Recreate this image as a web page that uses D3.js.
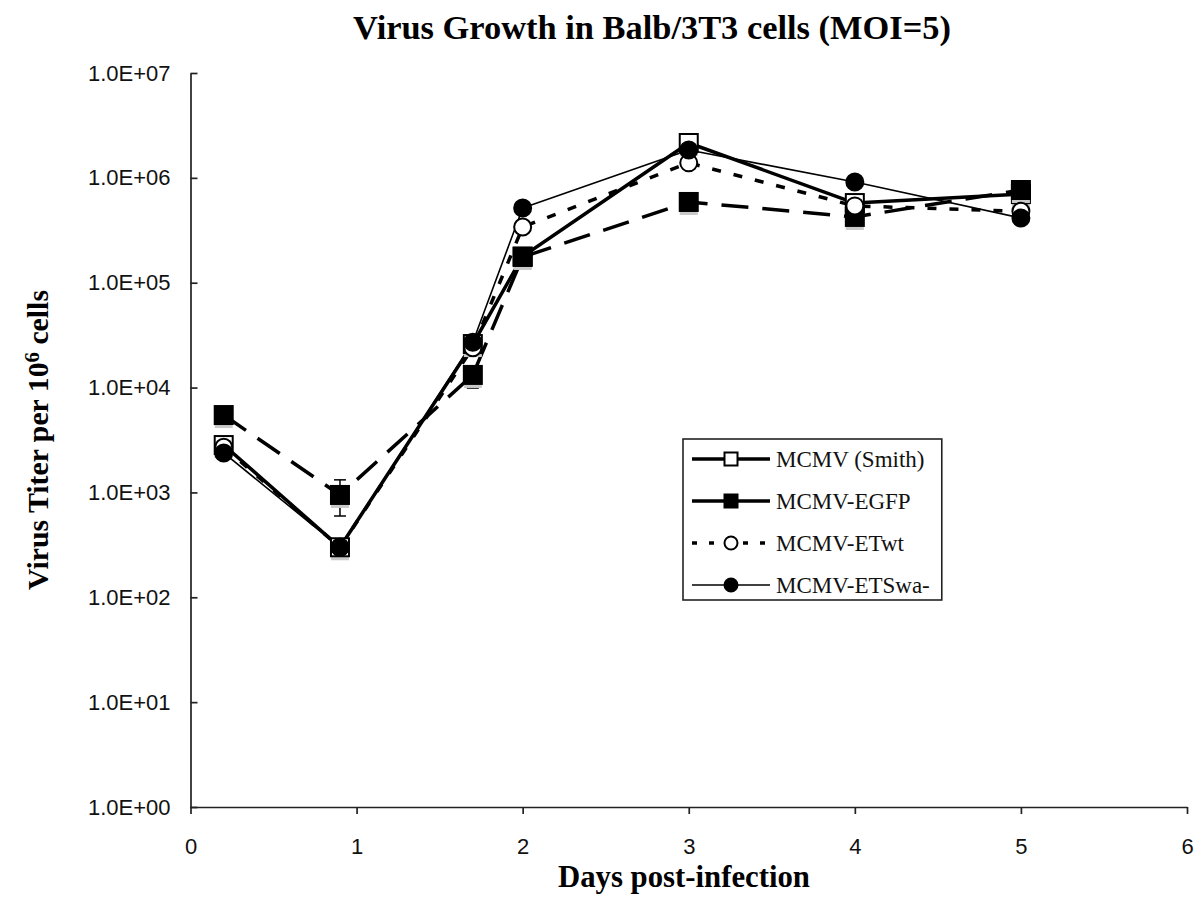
<!DOCTYPE html>
<html>
<head>
<meta charset="utf-8">
<script src="https://cdn.jsdelivr.net/npm/d3@7/dist/d3.min.js"></script>
<style>
  html, body { margin: 0; padding: 0; background: #fff; }
  svg { display: block; }
</style>
</head>
<body>
<svg id="chart" width="1202" height="911"></svg>
<script>
// ---------------- data ----------------
const days = [0.2, 0.9, 1.7, 2, 3, 4, 5];
const seriesNames = ["MCMV (Smith)", "MCMV-EGFP", "MCMV-ETwt", "MCMV-ETSwa-"];
const smith = [2830, 300, 26000, 178000, 2150000, 575000, 700000];
const egfp  = [5470, 946, 13200, 176000, 589000, 424000, 766000];
const etwt  = [2700, 300, 24000, 340000, 1390000, 540000, 480000];
const etswa = [2380, 300, 27000, 516000, 1840000, 912000, 414000];
// error bar limits (null = not visible)
const smithHi = [3370, null, 30000, null, 2560000, null, null];
const smithLo = [2380, null, 22500, null, 1800000, null, null];
const egfpHi  = [6300, 1318, 15500, null, null, null, null];
const egfpLo  = [4210, 596, 9900, null, null, null, null];
const etwtHi  = [null, null, null, null, null, null, null];
const etwtLo  = [null, null, null, null, null, null, null];
const etswaHi = [null, null, null, null, null, null, null];
const etswaLo = [null, null, null, null, null, null, null];
const yTicks = [1, 10, 100, 1000, 10000, 100000, 1000000, 10000000];
const yTickLabels = ["1.0E+00","1.0E+01","1.0E+02","1.0E+03","1.0E+04","1.0E+05","1.0E+06","1.0E+07"];
const xTicks = [0, 1, 2, 3, 4, 5, 6];
const titleText = "Virus Growth in Balb/3T3 cells (MOI=5)";
const xLabelText = "Days post-infection";

// ---------------- styles ----------------
const styles = [
  {marker: "square", fill: "#fff", width: 3.5, dash: null},
  {marker: "square", fill: "#000", width: 3.5, dash: "27,14"},
  {marker: "circle", fill: "#fff", width: 3.5, dash: "9,13"},
  {marker: "circle", fill: "#000", width: 1.6, dash: null}
];
const values = [smith, egfp, etwt, etswa];
const his = [smithHi, egfpHi, etwtHi, etswaHi];
const los = [smithLo, egfpLo, etwtLo, etswaLo];

const svg = d3.select("#chart");
const x = d3.scaleLinear().domain([0, 6]).range([190.5, 1187]);
const y = d3.scaleLog().domain([1, 1e7]).range([807, 73]);
const serif = "'Liberation Serif', 'Times New Roman', Times, serif";
const sans = "'Liberation Sans', Arial, Helvetica, sans-serif";

function fitText(sel, target) {
  const w = sel.node().getComputedTextLength();
  const fs = parseFloat(sel.attr("font-size"));
  sel.attr("font-size", (fs * target / w).toFixed(2));
}

// axes
const yAxis = d3.axisLeft(y).tickValues(yTicks)
  .tickFormat((d, i) => yTickLabels[i]).tickSizeInner(-7).tickSizeOuter(0).tickPadding(20);
const gy = svg.append("g").attr("transform", `translate(${x(0)},0)`).call(yAxis);
gy.selectAll("text").attr("font-family", sans).attr("font-size", 22).attr("fill", "#111");
gy.selectAll("line, path").attr("stroke", "#222").attr("stroke-width", 1.7);

const xAxis = d3.axisBottom(x).tickValues(xTicks).tickFormat(d3.format("d"))
  .tickSizeInner(7).tickSizeOuter(0).tickPadding(24);
const gx = svg.append("g").attr("transform", `translate(0,${y(1)})`).call(xAxis);
gx.selectAll("text").attr("font-family", sans).attr("font-size", 22).attr("fill", "#111");
gx.selectAll("line, path").attr("stroke", "#222").attr("stroke-width", 1.7);

// titles
const title = svg.append("text").attr("x", 652).attr("y", 39).attr("text-anchor", "middle")
  .attr("font-family", serif).attr("font-weight", "bold").attr("font-size", 30).text(titleText);
fitText(title, 598);

const xl = svg.append("text").attr("x", 684).attr("y", 887).attr("text-anchor", "middle")
  .attr("font-family", serif).attr("font-weight", "bold").attr("font-size", 26).text(xLabelText);
fitText(xl, 252);

const yl = svg.append("text").attr("transform", "translate(48,440) rotate(-90)").attr("text-anchor", "middle")
  .attr("font-family", serif).attr("font-weight", "bold").attr("font-size", 23);
yl.append("tspan").text("Virus Titer per 10");
yl.append("tspan").attr("dy", "-0.45em").attr("font-size", "0.7em").text("6");
yl.append("tspan").attr("dy", "0.32em").text(" cells");
fitText(yl, 300);

// lines
const line = d3.line().x((d, i) => x(days[i])).y(d => y(d));
values.forEach((vals, s) => {
  svg.append("path").attr("d", line(vals)).attr("fill", "none")
    .attr("stroke", "#000").attr("stroke-width", styles[s].width)
    .attr("stroke-dasharray", styles[s].dash).attr("stroke-linejoin", "round");
});

// error bars + markers
function drawMarker(g, type, fill, cx, cy, size, shadow) {
  if (shadow) {
    g.append("rect").attr("x", cx - size / 2).attr("y", cy - size / 2 + 4)
      .attr("width", size).attr("height", size).attr("fill", "#c9c9c9");
  }
  if (type === "square") {
    g.append("rect").attr("x", cx - size / 2).attr("y", cy - size / 2)
      .attr("width", size).attr("height", size)
      .attr("fill", fill).attr("stroke", "#000").attr("stroke-width", 2);
  } else {
    g.append("circle").attr("cx", cx).attr("cy", cy).attr("r", size / 2)
      .attr("fill", fill).attr("stroke", "#000").attr("stroke-width", 2);
  }
}
values.forEach((vals, s) => {
  const g = svg.append("g");
  vals.forEach((v, i) => {
    const cx = x(days[i]);
    if (his[s][i] != null) {
      const yh = y(his[s][i]), ylo = y(los[s][i]);
      g.append("line").attr("x1", cx).attr("x2", cx).attr("y1", yh).attr("y2", ylo)
        .attr("stroke", "#000").attr("stroke-width", 1.5);
      [yh, ylo].forEach(yy => g.append("line").attr("x1", cx - 6).attr("x2", cx + 6)
        .attr("y1", yy).attr("y2", yy).attr("stroke", "#000").attr("stroke-width", 1.5));
    }
  });
  vals.forEach((v, i) => {
    const sq = styles[s].marker === "square";
    drawMarker(g, styles[s].marker, styles[s].fill, x(days[i]), y(v), sq ? 18 : 17, sq);
  });
});

// legend
const lg = svg.append("g");
const legTop = 439, legLeft = 683, rowY = [459, 501, 543, 585];
const box = lg.append("rect").attr("x", legLeft).attr("y", legTop).attr("height", 161)
  .attr("fill", "#fff").attr("stroke", "#222").attr("stroke-width", 1.6);
let maxW = 0;
seriesNames.forEach((name, s) => {
  const yy = rowY[s];
  lg.append("line").attr("x1", 692).attr("x2", 770).attr("y1", yy).attr("y2", yy)
    .attr("stroke", "#000").attr("stroke-width", styles[s].width)
    .attr("stroke-dasharray", s === 2 ? "5,12" : null);
  drawMarker(lg, styles[s].marker, styles[s].fill, 731, yy, 13, false);
  const t = lg.append("text").attr("x", 776).attr("y", yy + 8)
    .attr("font-family", serif).attr("font-size", 23).attr("fill", "#111").text(name);
  maxW = Math.max(maxW, t.node().getComputedTextLength());
});
box.attr("width", 776 + maxW + 12 - legLeft);
</script>
</body>
</html>
